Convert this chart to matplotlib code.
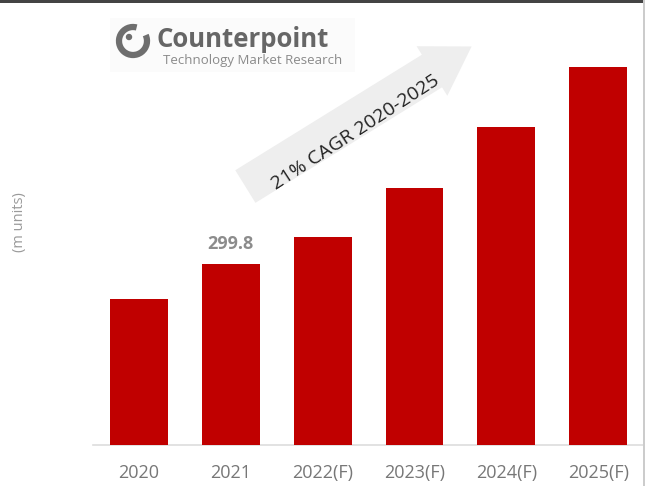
import matplotlib

matplotlib.use("Agg")

import matplotlib.pyplot as plt
from matplotlib.patches import Arc, Circle, Rectangle
from matplotlib.transforms import IdentityTransform

plt.rcParams["font.family"] = ["Open Sans", "DejaVu Sans"]

years = ["2020", "2021", "2022(F)", "2023(F)", "2024(F)", "2025(F)"]
units = [242, 299.8, 344, 426, 527, 626]
labelled = {1: "299.8"}

W, H = 645, 486
fig = plt.figure(figsize=(W / 100, H / 100), dpi=100)
ax = fig.add_axes([93 / W, (H - 445) / H, (W - 93) / W, 440 / H])

x = list(range(len(years)))
ax.bar(x, units, width=0.63, color="#c00000", zorder=3)
for i, txt in labelled.items():
    ax.text(i, units[i] + 18, txt, ha="center", va="bottom",
            fontsize=13, fontweight="bold", color="#8c8c8c")

ax.set_xlim(-0.5, 5.51)
ax.set_ylim(0, 729)
ax.set_xticks(x)
ax.set_xticklabels(years, fontsize=13, color="#777777")
ax.tick_params(axis="x", length=0, pad=14)
ax.set_yticks([])
for side in ["top", "right", "left"]:
    ax.spines[side].set_visible(False)
ax.spines["bottom"].set_color("#dddddd")
ax.spines["bottom"].set_linewidth(1.2)

fig.text(20 / W, 1 - 222 / H, "(m units)", rotation=90, ha="center", va="center",
         fontsize=10.5, color="#9a9a9a")

# growth arrow
px = IdentityTransform()
ax.annotate("", xy=(474, H - 45), xytext=(243, H - 188),
            xycoords="figure pixels", textcoords="figure pixels",
            arrowprops=dict(arrowstyle="simple,head_length=1.4,head_width=1.75,tail_width=1.15",
                            mutation_scale=24, fc="#eeeeee", ec="none"),
            zorder=1)
fig.text(355 / W, 1 - 132 / H, "21% CAGR 2020-2025", rotation=33, ha="center",
         va="center", rotation_mode="anchor", fontsize=14, color="#222222")

# logo
fig.patches.append(Rectangle((110, H - 72), 245, 54, transform=px,
                             fc="#fbfbfb", ec="none", zorder=0))
fig.patches.append(Arc((133, H - 41), 28, 28, theta1=75, theta2=385, transform=px,
                       lw=4.5, color="#6e6e6e"))
fig.patches.append(Circle((129, H - 37), 2.5, transform=px, color="#6e6e6e"))
fig.text(157 / W, 1 - 47 / H, "Counterpoint", fontsize=18.5, fontweight="bold",
         color="#666666", ha="left", va="baseline")
fig.text(163 / W, 1 - 64 / H, "Technology Market Research", fontsize=9.5,
         color="#8a8a8a", ha="left", va="baseline")

# frame edges
fig.patches.append(Rectangle((0, H - 3), W, 3, transform=px, fc="#444444", ec="none"))
fig.patches.append(Rectangle((W - 2, 0), 2, H, transform=px, fc="#cccccc", ec="none"))

fig.savefig("out.png", dpi=100)
plt.close(fig)
